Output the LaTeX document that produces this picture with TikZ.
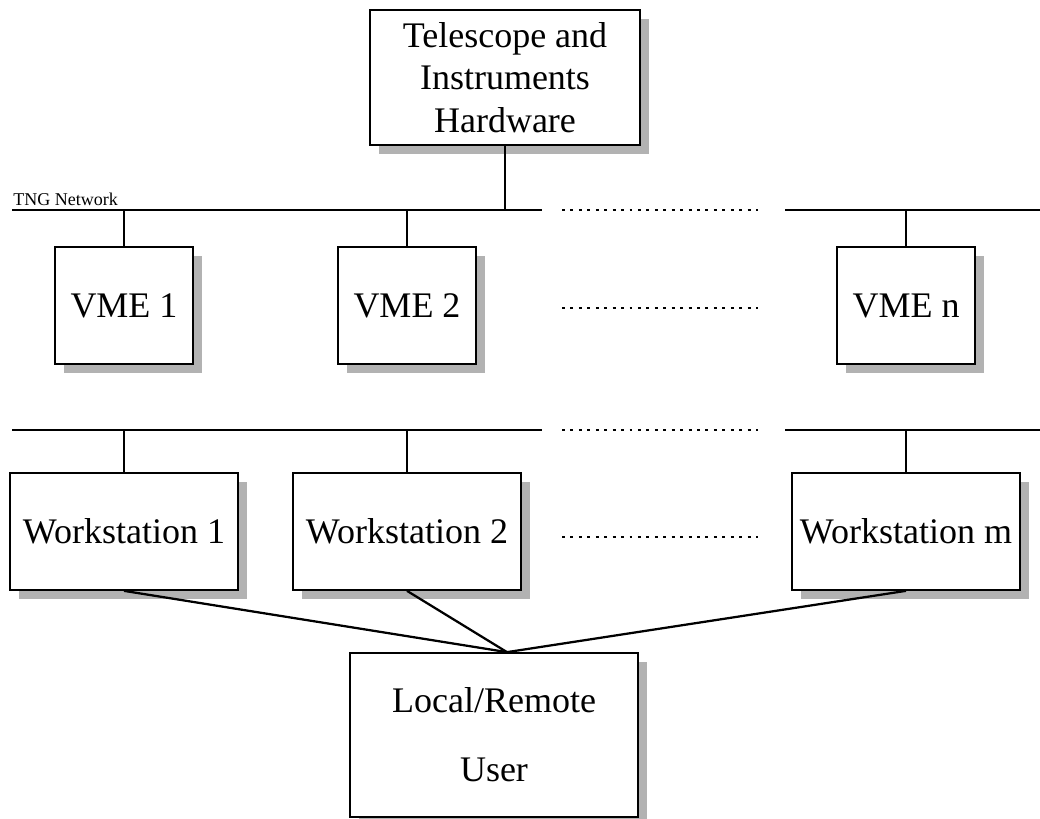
\documentclass[tikz,border=0pt]{standalone}
\usepackage{fontspec}
\setmainfont{Liberation Serif}
\usetikzlibrary{shadows,calc}
\newcommand{\boxfont}{\fontsize{25.6}{30.2}\selectfont}
\newcommand{\netfont}{\fontsize{12.8}{14}\selectfont}
\tikzset{
  box/.style={draw,line width=1.2pt,fill=white,align=center,inner sep=0pt,font=\boxfont,
    drop shadow={shadow xshift=0.22cm,shadow yshift=-0.22cm,fill=gray!60,opacity=1}},
  vmebox/.style={box,minimum width=3.45cm,minimum height=2.925cm},
  wsbox/.style={box,minimum width=5.7cm,minimum height=2.925cm},
  bus/.style={line width=2.1pt},
  dotbus/.style={line width=2.1pt,dash pattern=on 2.1pt off 3.9pt},
  link/.style={line width=1.6pt}
}

\begin{document}
\begin{tikzpicture}[x=0.025cm,y=-0.025cm]
  \useasboundingbox (0,0) rectangle (1040,819);
  % Telescope and instruments
  \node[box,minimum width=6.75cm,minimum height=3.375cm] (tel) at (505,77.5) {Telescope and\\Instruments\\Hardware};

  % Network buses (upper: TNG network, lower: workstations)
  \foreach \b/\y in {a/210,b/430} {
    \coordinate (\b0) at (12,\y);
    \coordinate (\b1) at (542,\y);
    \coordinate (\b2) at (562,\y);
    \coordinate (\b3) at (758,\y);
    \coordinate (\b4) at (785,\y);
    \coordinate (\b5) at (1040,\y);
    \draw[bus] (\b0) -- (\b1);
    \draw[dotbus] (\b2) -- (\b3);
    \draw[bus] (\b4) -- (\b5);
  }
  \node[font=\netfont,anchor=south west,inner sep=0pt] (netlbl) at (13,206) {TNG Network};
  \draw[link] (tel.south) -- (tel.south |- a0);

  % VME crates
  \foreach \n/\x/\t in {vme1/124/VME 1,vme2/407/VME 2,vmen/906/VME n} {
    \node[vmebox] (\n) at (\x,305.5) {\t};
    \draw[link] (\n.north) -- (\n.north |- a0);
  }
  \coordinate (vd0) at (562,308);
  \coordinate (vd1) at (758,308);
  \draw[dotbus] (vd0) -- (vd1);

  % Workstations
  \foreach \n/\x/\t in {ws1/124/Workstation 1,ws2/407/Workstation 2,wsm/906/Workstation m} {
    \node[wsbox] (\n) at (\x,531.5) {\t};
    \draw[link] (\n.north) -- (\n.north |- b0);
  }
  \coordinate (wd0) at (562,537);
  \coordinate (wd1) at (758,537);
  \draw[dotbus] (wd0) -- (wd1);

  % User
  \node[box,minimum width=7.2cm,minimum height=4.1cm,font=\fontsize{25.6}{49}\selectfont] (user) at (494,735) {Local/Remote\\User};
  \coordinate (join) at ($(user.north)+(13,0)$);
  \foreach \n in {ws1,ws2,wsm}
    \draw[link] (\n.south) -- (join);
\end{tikzpicture}
\end{document}
